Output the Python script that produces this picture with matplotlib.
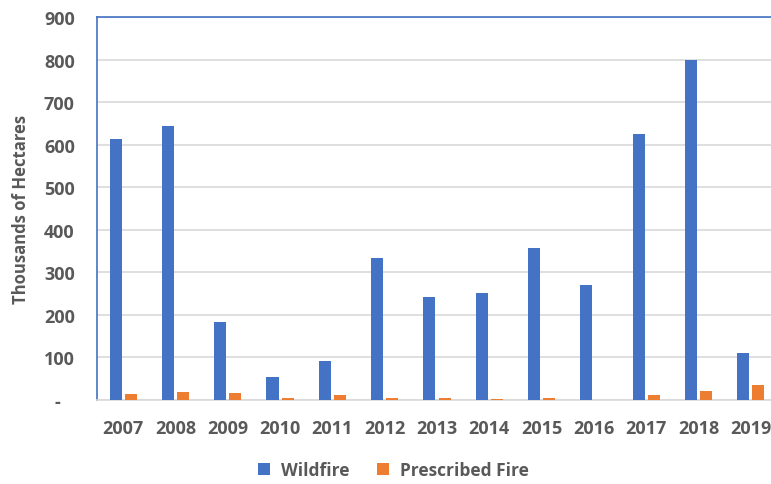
import matplotlib.pyplot as plt
import numpy as np

# Area burned per year, thousands of hectares
years = ["2007", "2008", "2009", "2010", "2011", "2012", "2013",
         "2014", "2015", "2016", "2017", "2018", "2019"]
wildfire = [614, 644, 183, 55, 91, 334, 243, 252, 356, 270, 625, 800, 110]
prescribed = [13, 18, 16, 5, 12, 5, 5, 3, 5, 0, 12, 22, 35]

y_ticks = [0, 100, 200, 300, 400, 500, 600, 700, 800, 900]
y_tick_labels = ["-   "] + [str(v) for v in y_ticks[1:]]

blue = "#4472C4"
orange = "#ED7D31"
text_gray = "#595959"
grid_gray = "#D9D9D9"

plt.rcParams["font.family"] = ["Open Sans", "DejaVu Sans"]
plt.rcParams["font.weight"] = "bold"

fig = plt.figure(figsize=(7.71, 4.85), dpi=100)
ax = fig.add_axes([0.1258, 0.1732, 0.882, 0.7897])

x = np.arange(len(years))
w = 0.23
ax.bar(x - 0.145, wildfire, width=w, color=blue, label="Wildfire", zorder=3)
ax.bar(x + 0.145, prescribed, width=w, color=orange, label="Prescribed Fire", zorder=3)

ax.set_xlim(-0.5, len(years) - 0.5)
ax.set_ylim(0, 900)
ax.set_yticks(y_ticks)
ax.set_yticklabels(y_tick_labels)
ax.set_xticks(x)
ax.set_xticklabels(years)

ax.grid(axis="y", color=grid_gray, linewidth=1.2, zorder=0)
ax.tick_params(axis="both", length=0, colors=text_gray, labelsize=13)
ax.tick_params(axis="y", pad=16)
ax.tick_params(axis="x", pad=14)

for side in ("left", "top", "right"):
    ax.spines[side].set_color(blue)
    ax.spines[side].set_linewidth(1.2)
ax.spines["bottom"].set_color(grid_gray)
ax.spines["bottom"].set_linewidth(1.2)

ax.set_ylabel("Thousands of Hectares", color=text_gray, fontsize=12,
              fontweight="bold", labelpad=10)

ax.legend(loc="upper center", bbox_to_anchor=(0.436, -0.118), ncol=2,
          frameon=False, fontsize=12.5, labelcolor=text_gray,
          handlelength=0.7, handleheight=0.7, columnspacing=1.6,
          handletextpad=0.6)

fig.savefig("out.png", dpi=100)
